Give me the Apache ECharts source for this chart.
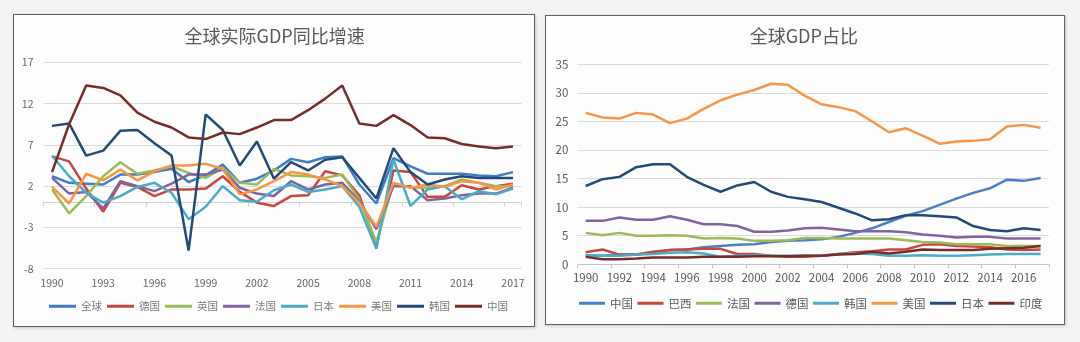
<!DOCTYPE html>
<html>
<head>
<meta charset="utf-8">
<script src="https://cdn.jsdelivr.net/npm/echarts@6/dist/echarts.min.js"></script>
<style>
  html, body { margin:0; padding:0; width:1080px; height:342px; overflow:hidden; background:#f3f3f3; }
  .panel { position:absolute; box-sizing:border-box; background:#fdfdfd; border:1.5px solid #5f5f5f; box-shadow:1px 1px 3px rgba(0,0,0,0.18); }
  .chart { position:absolute; left:0; top:0; width:1080px; height:342px; }
</style>
</head>
<body>
<div class="panel" style="left:13px;top:14px;width:522px;height:313px;"></div>
<div class="panel" style="left:545px;top:15px;width:520px;height:310px;"></div>
<div id="c1" class="chart"></div>
<div id="c2" class="chart" style="pointer-events:none;"></div>
<script>
// ---------- Left chart: 全球实际GDP同比增速 ----------
const years = ['1990','1991','1992','1993','1994','1995','1996','1997','1998','1999','2000','2001','2002','2003','2004','2005','2006','2007','2008','2009','2010','2011','2012','2013','2014','2015','2016','2017'];
const growthNames = ['全球','德国','英国','法国','日本','美国','韩国','中国'];
const gWorld   = [3.2, 2.4, 2.3, 2.2, 3.4, 3.4, 3.7, 4.1, 2.5, 3.3, 4.6, 2.4, 2.9, 3.9, 5.3, 4.9, 5.5, 5.6, 2.2, -0.1, 5.4, 4.4, 3.5, 3.5, 3.5, 3.3, 3.2, 3.7];
const gGermany = [5.6, 5.0, 1.7, -1.1, 2.4, 1.9, 0.8, 1.6, 1.6, 1.7, 3.2, 1.3, 0.0, -0.4, 0.8, 0.9, 3.8, 3.3, 0.9, -5.3, 3.9, 3.7, 0.7, 0.7, 2.1, 1.6, 2.0, 2.3];
const gUK      = [1.6, -1.3, 0.8, 3.2, 4.9, 3.5, 3.9, 4.4, 3.6, 3.0, 4.2, 2.4, 2.2, 4.1, 3.3, 3.2, 3.0, 3.4, 0.4, -4.8, 2.4, 1.8, 1.8, 2.0, 2.8, 2.4, 2.0, 2.0];
const gFrance  = [3.0, 1.1, 1.3, -0.7, 2.6, 2.0, 1.4, 2.3, 3.4, 3.4, 4.0, 1.8, 1.1, 0.8, 2.6, 1.6, 2.2, 2.4, 0.2, -3.2, 2.0, 2.0, 0.3, 0.5, 0.9, 1.1, 1.1, 1.8];
const gJapan   = [5.7, 3.2, 1.2, 0.0, 0.8, 1.9, 2.4, 1.2, -2.0, -0.5, 2.0, 0.3, 0.1, 1.5, 2.2, 1.3, 1.6, 2.0, -0.5, -5.6, 5.2, -0.4, 1.6, 2.0, 0.4, 1.4, 1.0, 1.7];
const gUS      = [1.9, -0.1, 3.5, 2.7, 4.0, 2.7, 3.8, 4.5, 4.5, 4.7, 4.1, 1.0, 1.6, 2.6, 3.7, 3.4, 2.8, 2.0, 0.0, -2.9, 2.4, 1.8, 2.2, 1.9, 2.6, 2.4, 1.6, 2.2];
const gKorea   = [9.3, 9.6, 5.7, 6.3, 8.7, 8.8, 7.2, 5.7, -5.8, 10.7, 8.8, 4.5, 7.4, 2.9, 4.9, 3.9, 5.2, 5.5, 3.0, 0.5, 6.6, 3.7, 2.2, 2.8, 3.2, 3.0, 3.0, 3.0];
const gChina   = [3.7, 9.5, 14.2, 13.9, 13.0, 10.9, 9.8, 9.1, 7.9, 7.7, 8.5, 8.3, 9.1, 10.0, 10.0, 11.2, 12.6, 14.2, 9.6, 9.3, 10.6, 9.4, 7.9, 7.8, 7.1, 6.8, 6.6, 6.8];
const growthSeries = [gWorld, gGermany, gUK, gFrance, gJapan, gUS, gKorea, gChina];
const growthColors = ['#3f7cc4','#c8473f','#9bbb59','#8064a2','#4bacc6','#f79646','#254a78','#772c2a'];
const growthTicks = [-8, -3, 2, 7, 12, 17];

// ---------- Right chart: 全球GDP占比 ----------
const shareNames = ['中国','巴西','法国','德国','韩国','美国','日本','印度'];
const sChina   = [1.6, 1.5, 1.7, 1.7, 2.0, 2.5, 2.6, 3.0, 3.2, 3.4, 3.5, 3.9, 4.1, 4.2, 4.4, 4.8, 5.5, 6.3, 7.4, 8.5, 9.3, 10.4, 11.5, 12.5, 13.3, 14.8, 14.6, 15.1];
const sBrazil  = [2.1, 2.6, 1.7, 1.7, 2.2, 2.5, 2.6, 2.7, 2.7, 1.8, 1.8, 1.5, 1.3, 1.3, 1.5, 1.8, 2.1, 2.3, 2.6, 2.6, 3.4, 3.5, 3.2, 3.1, 3.0, 2.6, 2.5, 2.6];
const sFrance  = [5.5, 5.1, 5.5, 5.0, 5.0, 5.1, 5.0, 4.5, 4.6, 4.5, 4.1, 4.1, 4.2, 4.6, 4.6, 4.5, 4.5, 4.5, 4.5, 4.2, 3.9, 3.8, 3.5, 3.5, 3.5, 3.2, 3.2, 3.2];
const sGermany = [7.6, 7.6, 8.2, 7.8, 7.8, 8.4, 7.8, 7.0, 7.0, 6.7, 5.7, 5.7, 5.9, 6.3, 6.4, 6.1, 5.8, 5.8, 5.8, 5.6, 5.2, 5.0, 4.7, 4.8, 4.8, 4.5, 4.5, 4.5];
const sKorea   = [1.6, 1.5, 1.5, 1.7, 1.8, 2.0, 2.1, 1.9, 1.3, 1.5, 1.6, 1.5, 1.5, 1.5, 1.5, 1.8, 1.9, 1.8, 1.5, 1.5, 1.6, 1.5, 1.5, 1.6, 1.7, 1.8, 1.8, 1.8];
const sUS      = [26.5, 25.7, 25.5, 26.5, 26.2, 24.7, 25.5, 27.2, 28.7, 29.7, 30.5, 31.6, 31.4, 29.5, 28.0, 27.5, 26.8, 25.0, 23.1, 23.8, 22.5, 21.1, 21.5, 21.6, 21.9, 24.1, 24.4, 23.9];
const sJapan   = [13.7, 14.9, 15.3, 17.0, 17.5, 17.5, 15.3, 13.9, 12.7, 13.8, 14.4, 12.7, 11.8, 11.4, 10.9, 9.9, 8.9, 7.7, 7.9, 8.6, 8.6, 8.4, 8.2, 6.7, 6.0, 5.8, 6.3, 6.0];
const sIndia   = [1.3, 0.9, 0.9, 1.0, 1.2, 1.2, 1.2, 1.3, 1.3, 1.3, 1.4, 1.4, 1.4, 1.5, 1.5, 1.7, 1.8, 2.2, 1.9, 2.2, 2.6, 2.5, 2.5, 2.5, 2.7, 2.8, 2.9, 3.2];
const shareSeries = [sChina, sBrazil, sFrance, sGermany, sKorea, sUS, sJapan, sIndia];
const shareColors = ['#4a80c4','#c8473f','#9bbb59','#8064a2','#4bacc6','#f79646','#254a78','#772c2a'];
const shareTicks = [0, 5, 10, 15, 20, 25, 30, 35];

const FONT = "'Noto Sans CJK SC', 'Noto Sans', sans-serif";

const c1 = echarts.init(document.getElementById('c1'));
c1.setOption({
  animation: false,
  graphic: [{
    type: 'text', x: 274.6, y: 36,
    style: { text: '全球实际GDP同比增速', fill: '#595959', fontSize: 18, fontFamily: FONT, align: 'center', verticalAlign: 'middle' }
  }],
  grid: { left: 43.5, right: 1080 - 521.5, top: 62.3, bottom: 342 - 268.7, containLabel: false },
  legend: {
    left: 49, top: 301, padding: 0, icon: 'rect', itemWidth: 27, itemHeight: 3, itemGap: 5,
    textStyle: { color: '#7a7a7a', fontSize: 10.5, fontFamily: FONT },
    data: growthNames
  },
  xAxis: [{
    type: 'category', data: years, boundaryGap: true, position: 'bottom',
    axisLine: { show: false, onZero: false }, axisTick: { show: false },
    axisLabel: { interval: 2, color: '#666', fontSize: 10.5, fontFamily: FONT, margin: 9 }
  }, {
    type: 'category', data: years, boundaryGap: true, position: 'bottom',
    axisLine: { show: true, onZero: true, lineStyle: { color: '#d0d0d0', width: 1 } },
    axisTick: { show: true, interval: 2, length: 4, lineStyle: { color: '#d0d0d0' } },
    axisLabel: { show: false }
  }],
  yAxis: {
    type: 'value', min: growthTicks[0], max: growthTicks[growthTicks.length - 1], interval: 5,
    axisLine: { show: false }, axisTick: { show: false },
    axisLabel: { color: '#666', fontSize: 10.5, fontFamily: FONT, margin: 10 },
    splitLine: { lineStyle: { color: '#dcdcdc', width: 1 } }
  },
  series: growthNames.map((n, i) => ({
    name: n, type: 'line', xAxisIndex: 0, data: growthSeries[i], symbol: 'none',
    lineStyle: { width: 2.5, color: growthColors[i] }, itemStyle: { color: growthColors[i] }
  }))
});

const c2 = echarts.init(document.getElementById('c2'));
c2.setOption({
  animation: false,
  graphic: [{
    type: 'text', x: 803.8, y: 36,
    style: { text: '全球GDP占比', fill: '#595959', fontSize: 18, fontFamily: FONT, align: 'center', verticalAlign: 'middle' }
  }],
  grid: { left: 577.3, right: 1080 - 1049, top: 64.3, bottom: 342 - 264.3, containLabel: false },
  legend: {
    left: 579, top: 297.5, padding: 0, icon: 'rect', itemWidth: 26, itemHeight: 3, itemGap: 4.5,
    textStyle: { color: '#595959', fontSize: 11.5, fontFamily: FONT },
    data: shareNames
  },
  xAxis: {
    type: 'category', data: years, boundaryGap: true,
    axisLine: { show: true, lineStyle: { color: '#c8c8c8', width: 1 } },
    axisTick: { show: true, interval: 1, length: 4, lineStyle: { color: '#c8c8c8' } },
    axisLabel: { interval: 1, color: '#595959', fontSize: 11.5, fontFamily: FONT, margin: 8 }
  },
  yAxis: {
    type: 'value', min: shareTicks[0], max: shareTicks[shareTicks.length - 1], interval: 5,
    axisLine: { show: false }, axisTick: { show: false },
    axisLabel: { color: '#595959', fontSize: 11.5, fontFamily: FONT, margin: 9 },
    splitLine: { lineStyle: { color: '#dcdcdc', width: 1 } }
  },
  series: shareNames.map((n, i) => ({
    name: n, type: 'line', data: shareSeries[i], symbol: 'none',
    lineStyle: { width: 2.5, color: shareColors[i] }, itemStyle: { color: shareColors[i] }
  }))
});
</script>
</body>
</html>
